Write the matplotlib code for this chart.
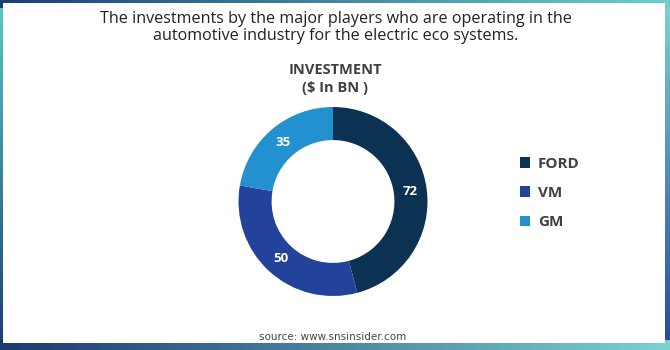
import matplotlib.pyplot as plt
import numpy as np
from matplotlib.patches import Rectangle

companies = ["FORD", "VM", "GM"]
investment = [72, 50, 35]
colors = ["#0c3253", "#23429b", "#2391cf"]

W, H = 670, 350
fig = plt.figure(figsize=(W / 100, H / 100), dpi=100)

# gradient frame behind a white card
def mix(c1, c2, t):
    c1 = np.array(plt.matplotlib.colors.to_rgb(c1))
    c2 = np.array(plt.matplotlib.colors.to_rgb(c2))
    return c1[None, :] * (1 - t[:, None]) + c2[None, :] * t[:, None]

img = np.ones((H, W, 3))
tx = np.linspace(0, 1, W)
ty = np.linspace(0, 1, H)
top = mix("#1b3f74", "#6dcfcf", tx)
bot = mix("#1b3a6e", "#79d3d3", tx)
left = mix("#5cc9c9", "#1b3c70", ty)
right = mix("#7ad3d6", "#2448a0", ty)
img[:, :8] = left[:, None, :]
img[:, -10:] = right[:, None, :]
img[:8] = top[None, :, :]
img[-10:] = bot[None, :, :]
bg = fig.add_axes([0, 0, 1, 1])
bg.imshow(img, aspect="auto", extent=[0, W, H, 0])
bg.add_patch(Rectangle((3, 3), 662, 340, facecolor="white", edgecolor="none"))
bg.set_xlim(0, W)
bg.set_ylim(H, 0)
bg.axis("off")

fig.text(336 / W, 1 - 19 / H, "The investments by the major players who are operating in the",
         ha="center", va="center", fontsize=11.6, color="#222222", family="Open Sans")
fig.text(336 / W, 1 - 36 / H, "automotive industry for the electric eco systems.",
         ha="center", va="center", fontsize=11.6, color="#222222", family="Open Sans")
fig.text(335 / W, 1 - 70 / H, "INVESTMENT", ha="center", va="center",
         fontsize=10.5, fontweight="bold", color="#404040", family="Open Sans")
fig.text(335 / W, 1 - 88 / H, "($ In BN )", ha="center", va="center",
         fontsize=10.5, fontweight="bold", color="#404040", family="Open Sans")

ax = fig.add_axes([(333 - 94.5) / W, (350 - 296) / H, 189 / W, 189 / H])
wedges, _, autotexts = ax.pie(investment, colors=colors, startangle=90, counterclock=False,
                              radius=1, wedgeprops=dict(width=0.35, edgecolor="none"),
                              autopct=lambda p: f"{p * sum(investment) / 100:.0f}",
                              pctdistance=0.82)
for t in autotexts:
    t.set_color("white")
    t.set_fontsize(9.5)
    t.set_fontweight("bold")
    t.set_family("Open Sans")
ax.set_xlim(-1, 1)
ax.set_ylim(-1, 1)
ax.set_aspect("equal")

leg = fig.legend(wedges, companies, loc="center left", bbox_to_anchor=(506 / W, 1 - 193 / H),
                 frameon=False, handlelength=0.7, handleheight=0.7, handletextpad=0.5,
                 labelspacing=1.0, prop=dict(family="Open Sans", weight="bold", size=11))
for t in leg.get_texts():
    t.set_color("#404040")

fig.text(333 / W, 1 - 337 / H, "source: www.snsinsider.com", ha="center", va="center",
         fontsize=7.5, color="#444444", family="DejaVu Sans")

fig.savefig("out.png", dpi=100)
